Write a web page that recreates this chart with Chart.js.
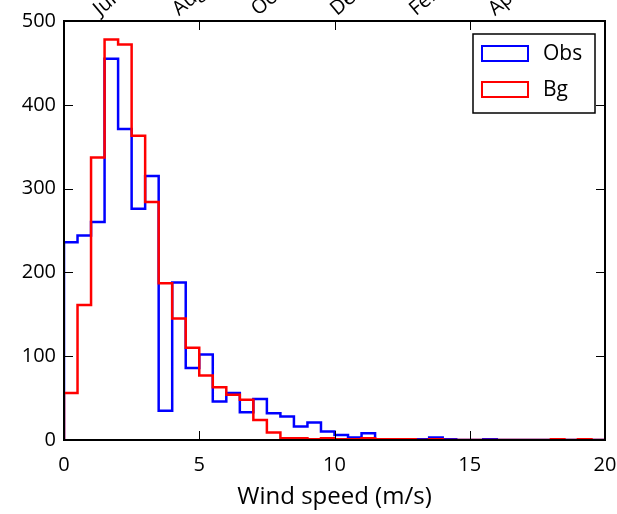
<!DOCTYPE html>
<html>
<head>
<meta charset="utf-8">
<script src="https://cdn.jsdelivr.net/npm/chart.js@4.4.1/dist/chart.umd.min.js"></script>
<style>
  html, body { margin: 0; padding: 0; background: #fff; }
</style>
</head>
<body>
<canvas id="myChart" width="617" height="514"></canvas>
<script>
// Histogramas de velocidad del viento (bins de 0.5 m/s, de 0 a 20)
var binWidth = 0.5;
var obsCounts = [236, 244, 260, 455, 371, 276, 315, 35, 188, 86,
                 102, 46, 56, 33, 49, 32, 28, 16, 21, 10,
                 6, 3, 8, 1, 1, 0, 1, 3, 1, 0,
                 0, 1, 0, 0, 0, 0, 0, 0, 0, 0];
var bgCounts  = [56, 161, 337, 478, 472, 363, 284, 187, 145, 110,
                 77, 63, 54, 48, 24, 9, 2, 2, 1, 2,
                 1, 1, 2, 1, 1, 1, 0, 1, 0, 0,
                 0, 0, 0, 0, 0, 0, 1, 0, 1, 0];
var speedTicks = [0, 5, 10, 15, 20];
var countTicks = [0, 100, 200, 300, 400, 500];
var monthPos = [5, 7, 9, 11, 13, 15];
var monthLabels = ['Jun', 'Aug', 'Oct', 'Dec', 'Feb', 'Apr'];

var font = "'Open Sans', sans-serif";

// Contorno escalonado tipo histtype='step'
function stepPoints(counts) {
  var pts = [{x: 0, y: 0}];
  counts.forEach(function (c, i) { pts.push({x: i * binWidth, y: c}); });
  pts.push({x: counts.length * binWidth, y: 0});
  return pts;
}

function fixedTicks(values) {
  return function (scale) {
    scale.ticks = values.map(function (v) { return {value: v}; });
  };
}

// Marco, ticks hacia dentro y leyenda
var frame = {
  id: 'frame',
  afterDraw: function (chart) {
    var a = chart.chartArea, ctx = chart.ctx, len = 9;
    var sx = chart.scales.x, sy = chart.scales.y;
    ctx.save();
    ctx.strokeStyle = '#000';
    ctx.lineWidth = 1;
    ctx.beginPath();
    sx.ticks.forEach(function (t) {
      var px = Math.round(sx.getPixelForValue(t.value)) + 0.5;
      ctx.moveTo(px, a.bottom); ctx.lineTo(px, a.bottom - len);
      ctx.moveTo(px, a.top); ctx.lineTo(px, a.top + len);
    });
    sy.ticks.forEach(function (t) {
      var py = Math.round(sy.getPixelForValue(t.value)) + 0.5;
      ctx.moveTo(a.left, py); ctx.lineTo(a.left + len, py);
      ctx.moveTo(a.right, py); ctx.lineTo(a.right - len, py);
    });
    ctx.stroke();
    ctx.lineWidth = 2;
    ctx.strokeRect(a.left, a.top, a.right - a.left, a.bottom - a.top);

    var bw = 122, bh = 79;
    var bx = a.right - 10 - bw, by = a.top + 13;
    ctx.fillStyle = '#fff';
    ctx.fillRect(bx, by, bw, bh);
    ctx.lineWidth = 1.5;
    ctx.strokeRect(bx, by, bw, bh);
    ctx.font = '21px ' + font;
    ctx.textBaseline = 'middle';
    chart.data.datasets.forEach(function (ds, i) {
      var y = by + 12 + i * 36;
      ctx.strokeStyle = ds.borderColor;
      ctx.lineWidth = 2;
      ctx.strokeRect(bx + 9, y, 46, 15);
      ctx.fillStyle = '#000';
      ctx.fillText(ds.label, bx + 70, y + 8);
    });
    ctx.restore();
  }
};

var data = {
  datasets: [{
    label: 'Obs',
    data: stepPoints(obsCounts),
    borderColor: 'rgb(0,0,255)',
    borderWidth: 2.5,
    stepped: true,
    pointRadius: 0,
    fill: false,
    order: 1
  }, {
    label: 'Bg',
    data: stepPoints(bgCounts),
    borderColor: 'rgb(255,0,0)',
    borderWidth: 2.5,
    stepped: true,
    pointRadius: 0,
    fill: false,
    order: 0
  }]
};

var options = {
  responsive: false,
  animation: false,
  layout: { padding: { right: 12 } },
  plugins: { legend: { display: false }, tooltip: { enabled: false } },
  scales: {
    x: {
      type: 'linear', position: 'bottom', min: 0, max: 20,
      afterBuildTicks: fixedTicks(speedTicks),
      afterFit: function (s) { s.height = 74; s.paddingLeft = 0; s.paddingRight = 0; },
      grid: { display: false, drawTicks: false },
      border: { display: false },
      ticks: { color: '#000', font: { family: font, size: 20 }, padding: 13, maxRotation: 0 },
      title: { display: true, text: 'Wind speed (m/s)', color: '#000',
               font: { family: font, size: 24 }, padding: { top: 0, bottom: 2 } }
    },
    x2: {
      type: 'linear', position: 'top', min: 3.79, max: 17.49,
      afterBuildTicks: fixedTicks(monthPos),
      afterFit: function (s) { s.height = 21; s.paddingLeft = 0; s.paddingRight = 0; },
      grid: { display: false, drawTicks: false },
      border: { display: false },
      ticks: {
        color: '#000', font: { family: font, size: 20 }, padding: 0,
        minRotation: 40, maxRotation: 40, autoSkip: false,
        callback: function (v, i) { return monthLabels[i]; }
      }
    },
    y: {
      min: 0, max: 500,
      afterBuildTicks: fixedTicks(countTicks),
      afterFit: function (s) { s.width = 64; },
      grid: { display: false, drawTicks: false },
      border: { display: false },
      ticks: { color: '#000', font: { family: font, size: 20 }, padding: 8 }
    }
  }
};

var ctx = document.getElementById('myChart').getContext('2d');
var myChart = new Chart(ctx, {
  type: 'line',
  data: data,
  options: options,
  plugins: [frame]
});
</script>
</body>
</html>
